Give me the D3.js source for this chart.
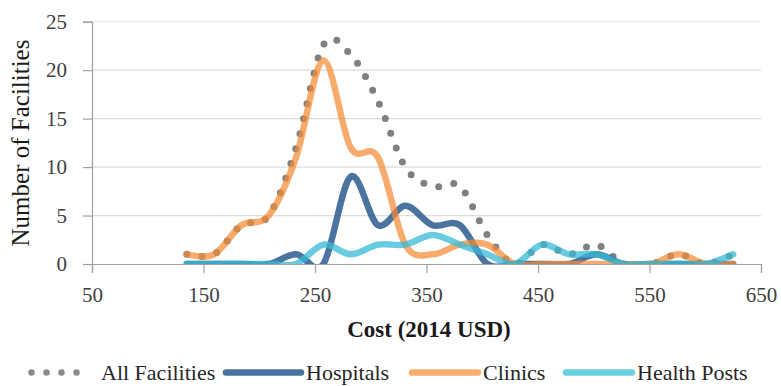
<!DOCTYPE html>
<html>
<head>
<meta charset="utf-8">
<script src="https://cdn.jsdelivr.net/npm/d3@7"></script>
<style>
  html, body { margin: 0; padding: 0; background: #fff; }
  svg { display: block; }
</style>
</head>
<body>
<svg id="chart" width="781" height="386"></svg>
<script>
// ---- data ----
const costs = [135, 159.5, 184, 208.5, 233, 257.5, 282, 306.5, 331, 355.5, 380, 404.5, 429, 453.5, 478, 502.5, 527, 551.5, 576, 600.5, 625];
const allFacilities = [1, 1, 4, 5, 12, 22.6, 21.6, 16.8, 10, 8, 8, 3, 0, 2, 1, 2, 0, 0, 1, 0, 1];
const hospitals     = [0, 0, 0, 0, 1, 0, 9, 4, 6, 4, 4, 0, 0, 0, 0, 1, 0, 0, 0, 0, 0];
const clinics       = [1, 1, 4, 5, 11, 21, 12, 11, 2, 1, 2, 2, 0, 0, 0, 0, 0, 0, 1, 0, 0];
const healthPosts   = [0, 0, 0, 0, 0, 2, 1, 2, 2, 3, 2, 1, 0, 2, 1, 1, 0, 0, 0, 0, 1];
const xTicks = [50, 150, 250, 350, 450, 550, 650];
const yTicks = [0, 5, 10, 15, 20, 25];
const seriesNames = ["All Facilities", "Hospitals", "Clinics", "Health Posts"];

(function () {
const FONT = "'Liberation Serif', 'DejaVu Serif', serif";
// ---- layout ----
const svg = d3.select("#chart");
const pLeft = 92, pRight = 761, pTop = 21.7, pBottom = 264;
const x = d3.scaleLinear().domain([50, 650]).range([pLeft, pRight]);
const y = d3.scaleLinear().domain([0, 25]).range([pBottom, pTop]);

const series = [
  { name: seriesNames[0], values: allFacilities, color: "#808080", opacity: 1, dotted: true },
  { name: seriesNames[1], values: hospitals, color: "#2a5b8f", opacity: 0.85, legendColor: "#4a74a0" },
  { name: seriesNames[2], values: clinics, color: "#f48c36", opacity: 0.72, legendColor: "#f8ae6c" },
  { name: seriesNames[3], values: healthPosts, color: "#37bad6", opacity: 0.75, legendColor: "#6ccfe2" }
];

// gridlines
svg.append("g")
  .selectAll("line")
  .data(yTicks.filter(d => d > 0))
  .join("line")
  .attr("x1", pLeft).attr("x2", pRight)
  .attr("y1", d => y(d)).attr("y2", d => y(d))
  .attr("stroke", d => d === 25 ? "#ececec" : "#dcdcdc")
  .attr("stroke-width", 1.2);

// y axis
const yAxis = svg.append("g")
  .attr("transform", `translate(${pLeft},0)`)
  .call(d3.axisLeft(y).tickValues(yTicks).tickSize(9).tickPadding(16));
yAxis.attr("font-family", null);
yAxis.select(".domain").attr("stroke", "#a0a0a0").attr("stroke-width", 1.2);
yAxis.selectAll(".tick line").attr("stroke", "#a0a0a0").attr("stroke-width", 1.2);
yAxis.selectAll(".tick text")
  .style("font-family", FONT).style("font-size", "21px").attr("fill", "#404040");

// x axis
const xAxis = svg.append("g")
  .attr("transform", `translate(0,${pBottom})`)
  .call(d3.axisBottom(x).tickValues(xTicks).tickSize(9).tickPadding(14));
xAxis.attr("font-family", null);
xAxis.select(".domain").attr("stroke", "#a0a0a0").attr("stroke-width", 1.2);
xAxis.selectAll(".tick line").attr("stroke", "#a0a0a0").attr("stroke-width", 1.2);
xAxis.selectAll(".tick text")
  .style("font-family", FONT).style("font-size", "21px").attr("fill", "#404040");

// clip
svg.append("clipPath").attr("id", "plotclip")
  .append("rect").attr("x", pLeft).attr("y", 0).attr("width", pRight - pLeft).attr("height", pBottom);

const line = d3.line()
  .x((d, i) => x(costs[i]))
  .y(d => y(d))
  .curve(d3.curveCardinal.tension(0));

const gLines = svg.append("g").attr("clip-path", "url(#plotclip)");
series.forEach(s => {
  const p = gLines.append("path")
    .datum(s.values)
    .attr("d", line)
    .attr("fill", "none")
    .attr("stroke", s.color)
    .attr("stroke-opacity", s.opacity)
    .attr("stroke-linecap", "round")
    .attr("stroke-linejoin", "round");
  if (s.dotted) {
    p.attr("stroke-width", 7).attr("stroke-dasharray", "0 15.5");
  } else {
    p.attr("stroke-width", 6.5);
  }
});

// axis titles
svg.append("text")
  .attr("x", 429).attr("y", 337)
  .attr("text-anchor", "middle")
  .style("font-family", FONT).style("font-size", "23px").style("font-weight", "bold")
  .attr("fill", "#1a1a1a")
  .text("Cost (2014 USD)");

svg.append("text")
  .attr("transform", "translate(29,143) rotate(-90)")
  .attr("text-anchor", "middle")
  .style("font-family", FONT).style("font-size", "25px")
  .attr("fill", "#1a1a1a")
  .text("Number of Facilities");

// legend
const legendY = 372.5;
const legendItems = [
  { s: series[0], x1: 31.5, x2: 77, tx: 101 },
  { s: series[1], x1: 226, x2: 301, tx: 306 },
  { s: series[2], x1: 412, x2: 478, tx: 483 },
  { s: series[3], x1: 566, x2: 632, tx: 637 }
];
const lg = svg.append("g");
legendItems.forEach(it => {
  if (it.s.dotted) {
    lg.append("line")
      .attr("x1", it.x1).attr("x2", it.x2 + 0.1)
      .attr("y1", legendY).attr("y2", legendY)
      .attr("stroke", "#8a8a8a").attr("stroke-width", 6.5)
      .attr("stroke-linecap", "round").attr("stroke-dasharray", "0 15");
  } else {
    lg.append("line")
      .attr("x1", it.x1).attr("x2", it.x2)
      .attr("y1", legendY).attr("y2", legendY)
      .attr("stroke", it.s.legendColor).attr("stroke-width", 6.5)
      .attr("stroke-linecap", "round");
  }
  lg.append("text")
    .attr("x", it.tx).attr("y", legendY + 7.5)
    .style("font-family", FONT).style("font-size", "22px")
    .attr("fill", "#262626")
    .text(it.s.name);
});
})();
</script>
</body>
</html>
